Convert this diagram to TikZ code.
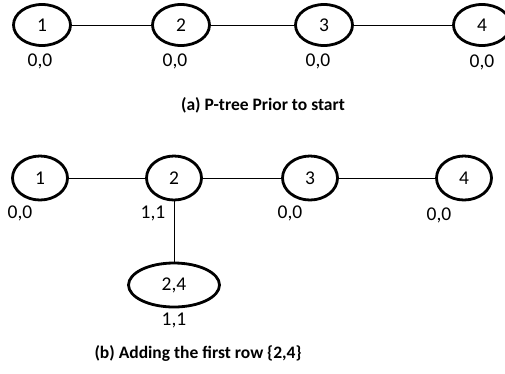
\documentclass[tikz,border=0pt]{standalone}
\usepackage{fontspec}
\setmainfont{Carlito}
\usetikzlibrary{shapes.geometric}
\begin{document}
\begin{tikzpicture}[x=1pt,y=-1pt,
  every node/.style={font=\fontsize{19.5}{22}\selectfont},
  item/.style={ellipse,draw,line width=2.8pt,inner sep=0pt,
    minimum width=57pt,minimum height=41pt},
  rowitem/.style={item,minimum width=55pt,minimum height=44pt},
  wideitem/.style={item,minimum width=91pt,minimum height=44pt},
  count/.style={inner sep=0pt},
  link/.style={line width=0.9pt},
  caption/.style={font=\fontsize{17.5}{20}\selectfont\bfseries}]
\useasboundingbox (0,0) rectangle (505,373);

% (a) the tree before any row is read
\node[item] (a1) at (42,25) {1};
\node[item] (a2) at (181,25) {2};
\node[item] (a3) at (324,25) {3};
\node[item] (a4) at (482,25) {4};
\draw[link] (a1) -- (a2);
\draw[link] (a2) -- (a3);
\draw[link] (a3) -- (a4);
\node[count] (ca1) at (40,61) {0,0};
\node[count] (ca2) at (175,61) {0,0};
\node[count] (ca3) at (318,61) {0,0};
\node[count] (ca4) at (482,62) {0,0};
\node[caption] (capa) at (263,105) {(a) P-tree Prior to start};

% (b) the tree after the first row {2,4}
\node[rowitem] (b1) at (40,178) {1};
\node[rowitem] (b2) at (174,178) {2};
\node[rowitem] (b3) at (310,178) {3};
\node[rowitem] (b4) at (464,178) {4};
\node[wideitem] (b24) at (174,285) {2,4};
\draw[link] (b1) -- (b2);
\draw[link] (b2) -- (b3);
\draw[link] (b3) -- (b4);
\draw[link] (b2) -- (b24);
\node[count] (cb1) at (20,213) {0,0};
\node[count] (cb2) at (153,213) {1,1};
\node[count] (cb3) at (290,213) {0,0};
\node[count] (cb4) at (439,215) {0,0};
\node[count] (cb24) at (174,320) {1,1};
\node[caption] (capb) at (198,353) {(b) Adding the first row \{2,4\}};
\end{tikzpicture}
\end{document}
